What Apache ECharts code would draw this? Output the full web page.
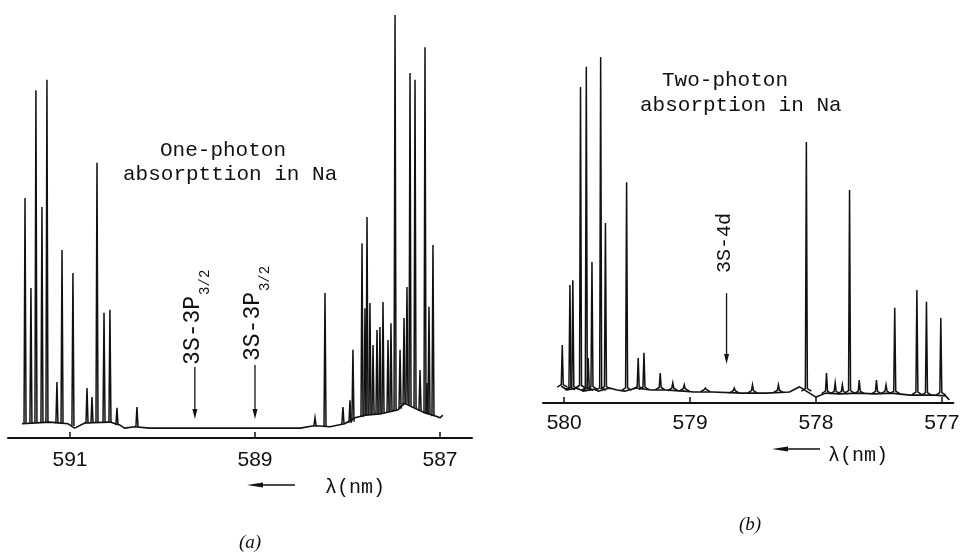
<!DOCTYPE html>
<html>
<head>
<meta charset="utf-8">
<title>Na absorption spectra</title>
<script src="https://cdn.jsdelivr.net/npm/echarts@6/dist/echarts.min.js"></script>
<style>
  html, body { margin: 0; padding: 0; background: #fff; }
  #chart { width: 978px; height: 552px; }
</style>
</head>
<body>
<div id="chart"></div>
<script>
// (a) one-photon: baseline trace
const baseWlA = [591.52, 591.22, 591.02, 590.95, 590.84, 590.57, 590.46, 590.41, 590.30, 590.14, 589.01, 588.51, 588.38, 588.30, 588.19, 588.03, 587.92, 587.81, 587.65, 587.46, 587.38, 587.30, 587.16, 587.05, 587.00, 586.97]
const baseValA = [3.3, 3.7, 3.3, 2.3, 3.5, 3.7, 3.0, 2.3, 2.6, 2.3, 2.3, 2.3, 2.8, 2.8, 2.6, 3.3, 4.7, 5.3, 5.6, 6.5, 8.1, 7.2, 5.8, 5.1, 4.7, 5.3]

// (a) lines: wavelength, peak height, foot height
const peakWlA = [591.486, 591.422, 591.368, 591.303, 591.249, 591.141, 591.086, 590.968, 590.816, 590.762, 590.708, 590.632, 590.568, 590.492, 590.276,
  588.351, 588.243, 588.049, 587.973, 587.941, 587.843, 587.811, 587.789, 587.757, 587.724, 587.681, 587.649, 587.616, 587.562, 587.530,
  587.486, 587.432, 587.389, 587.357, 587.324, 587.270, 587.216, 587.162, 587.141, 587.119, 587.076]
const peakValA = [55.8, 34.9, 80.9, 53.7, 83.3, 13.0, 43.7, 38.4, 11.6, 9.5, 64.0, 29.1, 29.8, 7.0, 7.2,
  4.7, 33.7, 7.2, 8.8, 20.5, 45.3, 30.2, 51.4, 31.4, 21.6, 25.1, 25.8, 31.6, 22.8, 26.7,
  98.4, 20.5, 27.9, 35.1, 84.9, 83.3, 15.8, 90.9, 12.8, 30.5, 44.9]
const peakFootA = [3.3, 3.4, 3.5, 3.6, 3.6, 3.4, 3.3, 2.8, 3.4, 3.5, 3.6, 3.7, 3.7, 3.0, 2.6,
  2.8, 2.6, 3.3, 3.5, 3.8, 4.9, 5.2, 5.3, 5.4, 5.5, 5.6, 5.6, 5.8, 6.0, 6.2,
  6.4, 6.8, 7.8, 8.0, 7.6, 7.0, 6.4, 5.8, 5.7, 5.5, 5.1]

// (b) two-photon: baseline trace
const baseWlB = [580.023, 579.977, 579.90, 579.85, 579.76, 579.73, 579.64, 579.58, 579.52, 579.43, 579.31, 579.20, 579.05, 578.97, 578.82, 578.59, 578.40, 578.21, 578.13, 578.00, 577.92, 577.81, 577.66, 577.54, 577.40, 577.25, 577.06, 576.97, 576.94]
const baseValB = [4.3, 3.3, 3.8, 3.0, 3.5, 3.0, 3.8, 3.3, 3.0, 3.8, 3.3, 3.3, 3.0, 2.8, 2.8, 2.5, 2.5, 2.8, 4.1, 1.5, 2.5, 2.3, 2.5, 2.3, 2.5, 2.0, 2.0, 1.8, 0.8]

// (b) lines
const peakWlB = [580.015, 579.954, 579.931, 579.870, 579.824, 579.809, 579.779, 579.710, 579.672, 579.504, 579.412, 579.366, 579.237, 579.137, 579.046,
  578.878, 578.649, 578.504, 578.298, 578.076, 577.916, 577.847, 577.790, 577.733, 577.656, 577.519, 577.443, 577.374, 577.198, 577.122, 577.008]
const peakValB = [14.7, 29.9, 31.1, 80.0, 85.1, 11.4, 35.7, 87.6, 45.6, 55.9, 11.4, 12.7, 7.6, 5.1, 4.6,
  3.8, 3.8, 4.6, 4.6, 66.1, 7.6, 5.1, 4.6, 53.9, 5.8, 5.8, 4.6, 24.1, 28.6, 25.6, 21.5]
const peakFootB = [4.0, 3.3, 3.5, 3.8, 3.2, 3.2, 3.5, 3.2, 3.5, 3.2, 3.5, 3.4, 3.3, 3.1, 3.0,
  2.8, 2.5, 2.5, 2.6, 3.0, 2.4, 2.3, 2.3, 2.5, 2.4, 2.3, 2.4, 2.4, 2.1, 2.0, 2.0]

// tick labels
const ticksA = [591, 589, 587]
const ticksB = [580, 579, 578, 577]

// transition markers: wavelength, text bottom, arrow top, arrow tip
const markWlA = [589.65, 589.0]
const markTextBotA = [17.0, 17.9]
const markArrowTopA = [16.5, 17.0]
const markTipA = [4.4, 4.4]
const markLabelA = ['3S-3P', '3S-3P']
const markSubA = ['3/2', '3/2']

const markWlB = [578.71]
const markTextBotB = [32.9]
const markArrowTopB = [27.8]
const markTipB = [9.9]
const markLabelB = ['3S-4d']
const markSubB = ['']

const INK = '#111'
const MONO = '"Liberation Mono", "DejaVu Sans Mono", monospace'

function zip (...cols) {
  return cols[0].map((_, i) => cols.map(c => c[i]))
}

// one vertical spike per line, with a small foot
function spikeRender (w, sh) {
  return function (params, api) {
    const top = api.coord([api.value(0), api.value(1)])
    const foot = api.coord([api.value(0), api.value(2)])
    const x = top[0]
    return {
      type: 'polyline',
      shape: { points: [[x - w, foot[1]], [x - 1, foot[1] - sh], [x, top[1]], [x + 1, foot[1] - sh], [x + w, foot[1]]] },
      style: { stroke: INK, lineWidth: 1.5, fill: null }
    }
  }
}

function markRender (labels, subs, fontSize, subSize) {
  return function (params, api) {
    const i = params.dataIndex
    const tb = api.coord([api.value(0), api.value(1)])
    const at = api.coord([api.value(0), api.value(2)])
    const tip = api.coord([api.value(0), api.value(3)])
    const x = tb[0]
    const mainLen = labels[i].length * fontSize * 0.6
    const children = [
      { type: 'line', shape: { x1: x, y1: at[1], x2: x, y2: tip[1] - 8 }, style: { stroke: INK, lineWidth: 1.3 } },
      { type: 'polygon', shape: { points: [[x - 2.5, tip[1] - 10], [x + 2.5, tip[1] - 10], [x, tip[1]]] }, style: { fill: INK } },
      { type: 'text', x: x - 2, y: tb[1], rotation: Math.PI / 2,
        style: { text: labels[i], font: fontSize + 'px ' + MONO, fill: INK, align: 'left', verticalAlign: 'middle' } }
    ]
    if (subs[i]) {
      children.push({ type: 'text', x: x + 10, y: tb[1] - mainLen - 1, rotation: Math.PI / 2,
        style: { text: subs[i], font: subSize + 'px ' + MONO, fill: INK, align: 'left', verticalAlign: 'middle' } })
    }
    return { type: 'group', children }
  }
}

function xAxisFor (gridIndex, min, max, ticks, margin) {
  return {
    type: 'value',
    gridIndex,
    inverse: true,
    min,
    max,
    splitLine: { show: false },
    axisLine: { lineStyle: { color: INK, width: 2 } },
    axisTick: { inside: true, length: 6, customValues: ticks, lineStyle: { color: INK, width: 1.5 } },
    axisLabel: { customValues: ticks, color: INK, fontSize: 21, fontFamily: '"Liberation Sans", Arial, sans-serif', margin }
  }
}

function arrowLeft (x1, x2, y) {
  return [
    { type: 'line', shape: { x1: x1 + 8, y1: y, x2: x2, y2: y }, style: { stroke: INK, lineWidth: 1.5 } },
    { type: 'polygon', shape: { points: [[x1, y], [x1 + 16, y - 2.5], [x1 + 16, y + 2.5]] }, style: { fill: INK } }
  ]
}

function text (t, x, y, font, align) {
  return { type: 'text', x, y, style: { text: t, font, fill: INK, align: align || 'left', verticalAlign: 'middle' } }
}

const chart = echarts.init(document.getElementById('chart'), null, { renderer: 'canvas' })

chart.setOption({
  backgroundColor: '#fff',
  animation: false,
  grid: [
    { left: 8, right: 506, top: 8, bottom: 114 },
    { left: 543, right: 8, top: 8, bottom: 149 }
  ],
  xAxis: [
    xAxisFor(0, 586.654, 591.67, ticksA, 12),
    xAxisFor(1, 576.908, 580.168, ticksB, 10)
  ],
  yAxis: [
    { type: 'value', gridIndex: 0, min: 0, max: 100, show: false },
    { type: 'value', gridIndex: 1, min: 0, max: 100, show: false }
  ],
  series: [
    { type: 'line', xAxisIndex: 0, yAxisIndex: 0, data: zip(baseWlA, baseValA), showSymbol: false, lineStyle: { color: INK, width: 1.6 } },
    { type: 'custom', xAxisIndex: 0, yAxisIndex: 0, data: zip(peakWlA, peakValA, peakFootA), encode: { x: 0, y: 1 }, renderItem: spikeRender(1.6, 1) },
    { type: 'custom', xAxisIndex: 0, yAxisIndex: 0, data: zip(markWlA, markTextBotA, markArrowTopA, markTipA), encode: { x: 0, y: 1 }, renderItem: markRender(markLabelA, markSubA, 23, 14) },
    { type: 'line', xAxisIndex: 1, yAxisIndex: 1, data: zip(baseWlB, baseValB), showSymbol: false, lineStyle: { color: INK, width: 1.6 } },
    { type: 'custom', xAxisIndex: 1, yAxisIndex: 1, data: zip(peakWlB, peakValB, peakFootB), encode: { x: 0, y: 1 }, renderItem: spikeRender(5, 2.5) },
    { type: 'custom', xAxisIndex: 1, yAxisIndex: 1, data: zip(markWlB, markTextBotB, markArrowTopB, markTipB), encode: { x: 0, y: 1 }, renderItem: markRender(markLabelB, markSubB, 20, 13) }
  ],
  graphic: [
    text('One-photon', 160, 150, '21px ' + MONO),
    text('absorpttion in Na', 123, 174, '21px ' + MONO),
    text('Two-photon', 662, 80, '21px ' + MONO),
    text('absorption in Na', 640, 105, '21px ' + MONO),
    ...arrowLeft(247, 295, 485),
    text('λ(nm)', 325, 488, '20px ' + MONO),
    ...arrowLeft(772, 820, 449),
    text('λ(nm)', 828, 456, '20px ' + MONO),
    text('(a)', 250, 543, 'italic 19px "Liberation Serif", serif', 'center'),
    text('(b)', 750, 525, 'italic 19px "Liberation Serif", serif', 'center')
  ]
})
</script>
</body>
</html>
